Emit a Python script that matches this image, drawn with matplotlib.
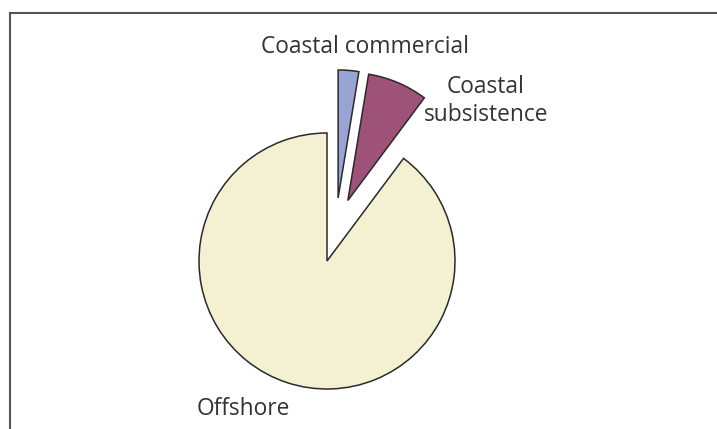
import numpy as np
import matplotlib
matplotlib.use("Agg")
import matplotlib.pyplot as plt
from matplotlib.lines import Line2D

# Catch shares by fishery sector (%)
sectors = ["Coastal commercial", "Coastal\nsubsistence", "Offshore"]
shares = [2.6, 7.6, 89.8]
colors = ["#9AA4D4", "#9E5277", "#F3F1D2"]
# pull-out distance (px) and direction (deg) for the detached slices
pull_dist = [64, 64, 0]
pull_dir = [80, 71, 0]

W, H = 717, 429
fig = plt.figure(figsize=(W / 100, H / 100), dpi=100)
ax = fig.add_axes([0, 0, 1, 1])

cx, cy, r = 327, H - 261, 128
wedges, _ = ax.pie(
    shares,
    colors=colors,
    startangle=90,
    counterclock=False,
    center=(cx, cy),
    radius=r,
    wedgeprops=dict(edgecolor="#2a2a2a", linewidth=1.1),
    frame=True,
)
for w, d, a in zip(wedges, pull_dist, pull_dir):
    t = np.deg2rad(a)
    w.set_center((cx + d * np.cos(t), cy + d * np.sin(t)))

ax.set_xlim(0, W)
ax.set_ylim(0, H)
ax.set_aspect("equal")
ax.axis("off")

font = dict(family="Open Sans", fontsize=16.4, color="#333333")
ax.text(365, H - 47, sectors[0], ha="center", va="center", **font)
ax.text(486, H - 101, sectors[1], ha="center", va="center",
        linespacing=1.2, **font)
ax.text(243, H - 409, sectors[2], ha="center", va="center", **font)

# open frame: left and top edges only
fig.add_artist(Line2D([9.5 / W, 9.5 / W], [0, 1 - 13 / H],
                      transform=fig.transFigure, color="#555555", lw=1.5))
fig.add_artist(Line2D([9.5 / W, 1], [1 - 13 / H, 1 - 13 / H],
                      transform=fig.transFigure, color="#555555", lw=1.5))

fig.savefig("out.png", dpi=100)
